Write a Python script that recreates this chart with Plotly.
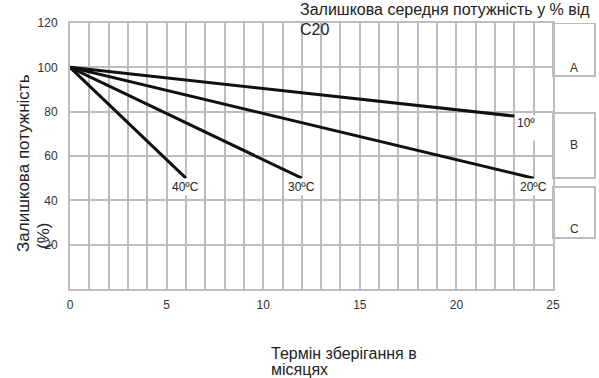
import plotly.graph_objects as go

# Data
months_10 = [0, 23]
values_10 = [100, 78]
months_20 = [0, 24]
values_20 = [100, 50]
months_30 = [0, 12]
values_30 = [100, 50]
months_40 = [0, 6]
values_40 = [100, 50]

x_tickvals = list(range(0, 26))
x_ticktext = [str(v) if v % 5 == 0 else "" for v in x_tickvals]
y_tickvals = [0, 20, 40, 60, 80, 100, 120]
y_ticktext = ["", "20", "40", "60", "80", "100", "120"]

zone_labels = ["A", "B", "C"]

FONT = "Liberation Sans, Arial, sans-serif"
GRID = "#bdbdbd"

# plot area in page pixels
PL, PR, PT, PB = 70, 553, 23, 289
PW, PH = PR - PL, PB - PT
W, H = 599, 378


def px(x):
    return (x - PL) / PW


def py(y):
    return (PB - y) / PH


fig = go.Figure()
for xs, ys in [(months_10, values_10), (months_20, values_20),
               (months_30, values_30), (months_40, values_40)]:
    fig.add_trace(go.Scatter(x=xs, y=ys, mode="lines",
                             line=dict(color="#111111", width=3),
                             showlegend=False, hoverinfo="skip"))

# curve labels
lab_font = dict(family=FONT, size=12, color="#222222")
for x, y, t in [(6, 46, "40ºC"), (12, 46, "30ºC"), (24, 46, "20ºC")]:
    fig.add_annotation(x=x, y=y, text=t, showarrow=False, font=lab_font,
                       bgcolor="white", xanchor="center", yanchor="middle",
                       borderpad=1)
fig.add_annotation(x=23.1, y=78.5, text="10ºC", showarrow=False, font=lab_font,
                   bgcolor="white", xanchor="left", yanchor="top",
                   width=18, height=24, align="left", valign="top", borderpad=0)

# zone boxes A/B/C
boxes = [(120, 96.1), (79.4, 50.1), (46.0, 23.0)]
label_y = [99.5, 65, 27]
for (y0, y1), lab, ly in zip(boxes, zone_labels, label_y):
    fig.add_shape(type="rect", xref="paper", yref="y", x0=1.0, x1=px(595),
                  y0=y1, y1=y0, line=dict(color=GRID, width=2), layer="below")
    fig.add_annotation(xref="paper", yref="y", x=px(574), y=ly, text=lab,
                       showarrow=False, font=dict(family=FONT, size=12, color="#333333"),
                       xanchor="center", yanchor="middle")

txt = "#222222"
# chart title (two lines, tight spacing)
for t, yc in [("Залишкова середня потужність у % від", 9.5), ("C20", 29)]:
    fig.add_annotation(xref="paper", yref="paper", x=px(298), y=py(yc), text=t,
                       showarrow=False, xanchor="left", yanchor="middle",
                       font=dict(family=FONT, size=16, color=txt))
# x-axis title
for t, yc in [("Термін зберігання в", 353.5), ("місяцях", 369.5)]:
    fig.add_annotation(xref="paper", yref="paper", x=px(269), y=py(yc), text=t,
                       showarrow=False, xanchor="left", yanchor="middle",
                       font=dict(family=FONT, size=16, color=txt))
# y-axis title
for t, xc, yb in [("Залишкова потужність", 23, 254), ("(%)", 43, 251)]:
    fig.add_annotation(xref="paper", yref="paper", x=px(xc), y=py(yb), text=t,
                       textangle=-90, showarrow=False, xanchor="center",
                       yanchor="bottom", font=dict(family=FONT, size=17, color=txt))

fig.update_xaxes(range=[0, 25], tickvals=x_tickvals, ticktext=x_ticktext,
                 showgrid=True, gridcolor=GRID, gridwidth=2,
                 showline=True, linecolor=GRID, linewidth=2, mirror=True,
                 zeroline=False, ticks="", ticklabelstandoff=4,
                 tickfont=dict(family=FONT, size=12, color="#333333"))
fig.update_yaxes(range=[0, 120], tickvals=y_tickvals, ticktext=y_ticktext,
                 showgrid=True, gridcolor=GRID, gridwidth=2,
                 showline=True, linecolor=GRID, linewidth=2, mirror=True,
                 zeroline=False, ticks="", ticklabelstandoff=8,
                 tickfont=dict(family=FONT, size=12, color="#333333"))

fig.update_layout(width=W, height=H,
                  margin=dict(l=PL, r=W - PR, t=PT, b=H - PB),
                  plot_bgcolor="white", paper_bgcolor="white",
                  font=dict(family=FONT))

fig.write_html("out.html", config={"displayModeBar": False},
               post_script="document.body.style.margin='0';document.body.style.overflow='hidden';")
